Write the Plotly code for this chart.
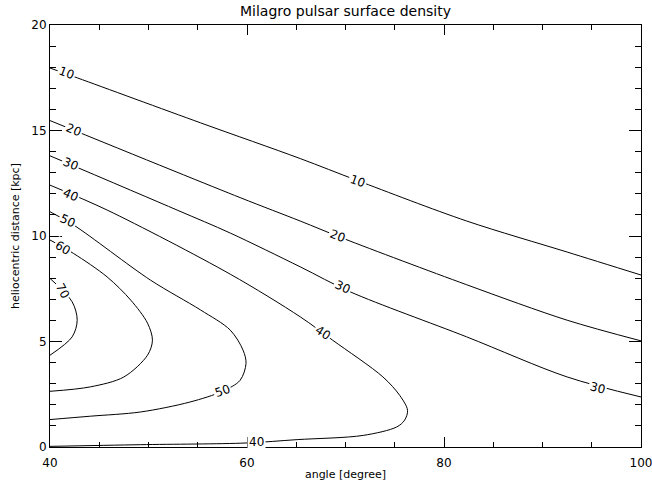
import plotly.graph_objects as go

# Contour lines: angle [degree] and heliocentric distance [kpc]
c10_angle = [40.0, 42.8, 55.3, 65.4, 71.2, 82.3, 92.5, 100.0]
c10_dist = [17.96, 17.49, 15.36, 13.67, 12.63, 10.71, 9.24, 8.15]

c20_angle = [40.0, 59.3, 65.4, 69.8, 82.3, 92.5, 100.0]
c20_dist = [15.47, 11.82, 10.71, 9.88, 7.69, 6.01, 5.03]

c30_angle = [40.0, 52.9, 58.3, 65.4, 70.5, 82.3, 92.5, 100.0]
c30_dist = [13.80, 11.23, 10.14, 8.54, 7.35, 5.22, 3.32, 2.37]

c40_angle = [40.0, 45.8, 58.3, 65.4, 68.7, 73.8, 75.5, 76.3, 76.0, 75.2, 71.8, 65.1, 59.9, 49.2, 40.0]
c40_dist = [12.41, 11.23, 8.19, 6.17, 5.06, 3.32, 2.45, 1.74, 1.27, 0.95, 0.55, 0.35, 0.19, 0.11, 0.03]

c50_angle = [40.0, 42.4, 50.2, 55.3, 58.3, 59.6, 59.9, 59.3, 57.5, 54.2, 49.2, 44.1, 40.0]
c50_dist = [11.15, 10.52, 7.91, 6.49, 5.54, 4.59, 3.96, 3.16, 2.64, 2.13, 1.66, 1.46, 1.30]

c60_angle = [40.0, 42.4, 45.8, 48.2, 49.9, 50.4, 49.9, 47.5, 44.1, 40.0]
c60_dist = [9.81, 9.17, 8.06, 6.96, 5.87, 5.06, 4.35, 3.32, 2.85, 2.64]

c70_angle = [40.0, 42.25, 42.76, 42.25, 40.0]
c70_dist = [7.99, 6.88, 6.01, 5.22, 4.35]

contour_levels = [10, 20, 30, 40, 50, 60, 70]
contour_angles = [c10_angle, c20_angle, c30_angle, c40_angle, c50_angle, c60_angle, c70_angle]
contour_dists = [c10_dist, c20_dist, c30_dist, c40_dist, c50_dist, c60_dist, c70_dist]

# Contour labels
label_text = ["10", "10", "20", "20", "30", "30", "30", "40", "40", "40", "50", "50", "60", "70"]
label_angle = [41.7, 71.2, 42.4, 69.2, 42.1, 69.7, 95.6, 42.1, 67.7, 61.0, 41.8, 57.5, 41.3, 41.3]
label_dist = [17.73, 12.60, 15.02, 10.0, 13.41, 7.58, 2.79, 11.94, 5.39, 0.24, 10.71, 2.64, 9.42, 7.4]
label_rot = [20, 19, 22, 21, 22, 25, 14, 25, 33, 0, 25, -20, 30, 62]

fig = go.Figure()
for lev, xa, ya in zip(contour_levels, contour_angles, contour_dists):
    fig.add_trace(go.Scatter(x=xa, y=ya, mode="lines", name=str(lev),
                             line=dict(color="black", width=1, shape="spline", smoothing=0.9),
                             showlegend=False, hoverinfo="skip", cliponaxis=False))

for t, xa, ya, r in zip(label_text, label_angle, label_dist, label_rot):
    fig.add_annotation(x=xa, y=ya, xref="x", yref="y", text=t, showarrow=False,
                       textangle=r, bgcolor="white", borderpad=1,
                       font=dict(family="DejaVu Sans", size=12, color="black"))

axis_common = dict(showline=True, linecolor="black", linewidth=1, mirror="allticks",
                   ticks="inside", tickcolor="black", showgrid=False, zeroline=False,
                   automargin=False, ticklabeloverflow="allow",
                   tickfont=dict(family="DejaVu Sans", size=12, color="black"))

fig.update_xaxes(range=[40, 100], tickmode="linear", tick0=40, dtick=20, ticklen=10,
                 ticklabelstandoff=5,
                 minor=dict(dtick=5, ticklen=5, ticks="inside", tickcolor="black", showgrid=False),
                 title=dict(text="angle [degree]", font=dict(family="DejaVu Sans", size=11, color="black"),
                            standoff=0),
                 **axis_common)
fig.update_yaxes(range=[0, 20], tickmode="linear", tick0=0, dtick=5, ticklen=12,
                 minor=dict(dtick=1, ticklen=6, ticks="inside", tickcolor="black", showgrid=False),
                 title=dict(text="heliocentric distance [kpc]",
                            font=dict(family="DejaVu Sans", size=11, color="black"), standoff=9),
                 **axis_common)

fig.update_layout(
    width=652, height=487,
    margin=dict(l=50, r=11, t=25, b=40),
    paper_bgcolor="white", plot_bgcolor="white",
    title=dict(text="Milagro pulsar surface density", x=0.5, xref="paper",
               y=1 - 11 / 487, yref="container", yanchor="middle", xanchor="center",
               font=dict(family="DejaVu Sans", size=14, color="black")),
)

fig.write_html("out.html")
